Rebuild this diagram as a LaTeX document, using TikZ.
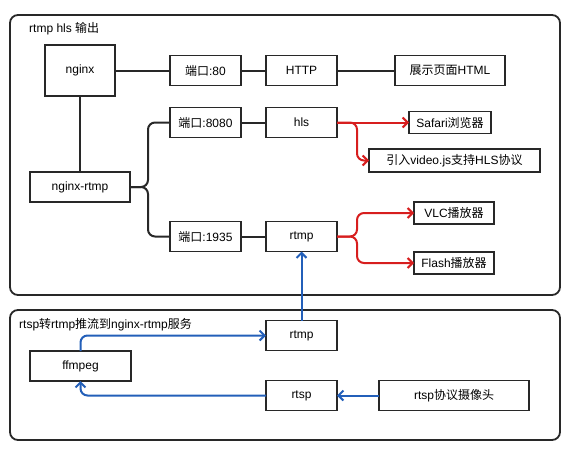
\documentclass[tikz,border=0pt]{standalone}
\usepackage{fontspec}
\setmainfont{Liberation Sans}
\newfontfamily\cjk{Noto Sans CJK SC}
\usetikzlibrary{positioning, arrows.meta}
\definecolor{lineclr}{RGB}{40,40,40}
\definecolor{redclr}{RGB}{215,30,30}
\definecolor{blueclr}{RGB}{35,95,185}

\begin{document}
\begin{tikzpicture}[x=1pt, y=-1pt, node distance=25pt,
    every node/.style={font=\fontsize{12}{14}\selectfont},
    box/.style={draw=lineclr, line width=1.8pt, fill=white, minimum width=71pt, minimum height=30pt, inner sep=0pt, outer sep=0pt},
    group/.style={draw=lineclr, line width=1.8pt, rounded corners=8pt},
    link/.style={draw=lineclr, line width=2pt},
    redarrow/.style={draw=redclr, line width=2pt, rounded corners=7pt, -{Straight Barb[length=5pt,width=10pt]}},
    bluearrow/.style={draw=blueclr, line width=2pt, rounded corners=7pt, -{Straight Barb[length=5pt,width=10pt]}}]

        \path[use as bounding box] (0,0) rectangle (580,460);

        % Groups
        \draw[group] (10,15) rectangle (560,295);
        \draw[group] (10,310) rectangle (560,440);
        \node[anchor=west, inner sep=0pt] (title1) at (29,29) {rtmp hls {\cjk 输出}};
        \node[anchor=west, inner sep=0pt] (title2) at (19,325) {rtsp{\cjk 转}rtmp{\cjk 推流到}nginx-rtmp{\cjk 服务}};

        % Server side
        \node[box, minimum width=70pt, minimum height=51pt] (nginx) at (80,70.5) {nginx};
        \node[box, right=55pt of nginx] (port80) {{\cjk 端口}:80};
        \node[box, right=of port80] (http) {HTTP};
        \node[box, minimum width=110pt, right=58pt of http] (page) {{\cjk 展示页面}HTML};
        \node[box, minimum width=100pt, below=76pt of nginx] (nr) {nginx-rtmp};
        \node[box, below=22pt of port80] (p8080) {{\cjk 端口}:8080};
        \node[box, right=of p8080] (hls) {hls};
        \node[box, below=84pt of p8080] (p1935) {{\cjk 端口}:1935};
        \node[box, right=of p1935] (rtmp1) {rtmp};

        % Players
        \node[box, minimum width=82pt, minimum height=22pt, right=72pt of hls] (safari) {Safari{\cjk 浏览器}};
        \node[box, minimum width=171pt, minimum height=23pt] (vjs) at (454.5,160.5) {{\cjk 引入}video.js{\cjk 支持}HLS{\cjk 协议}};
        \node[box, minimum width=80pt, minimum height=22pt] (vlc) at (454,213) {VLC{\cjk 播放器}};
        \node[box, minimum width=80pt, minimum height=22pt] (flash) at (454,263) {Flash{\cjk 播放器}};

        % Push side
        \node[box, below=69pt of rtmp1] (rtmp2) {rtmp};
        \node[box, below=30pt of rtmp2] (rtsp) {rtsp};
        \node[box, minimum width=150pt, right=42pt of rtsp] (cam) {rtsp{\cjk 协议摄像头}};
        \node[box, minimum width=101pt] (ffmpeg) at (80.5,366) {ffmpeg};

        % Black links
        \draw[link] (nginx) -- (port80);
        \draw[link] (port80) -- (http);
        \draw[link] (http) -- (page);
        \draw[link] (nginx) -- (nr);
        \draw[link, rounded corners=7pt] (nr.east) -- ++(18,0) |- (p8080.west);
        \draw[link, rounded corners=7pt] (nr.east) -- ++(18,0) |- (p1935.west);
        \draw[link] (p8080) -- (hls);
        \draw[link] (p1935) -- (rtmp1);

        % Red arrows
        \draw[redarrow] (hls.east) -- (safari.west);
        \draw[redarrow] (hls.east) -- ++(20,0) |- (vjs.west);
        \draw[redarrow] (rtmp1.east) -- ++(20,0) |- (vlc.west);
        \draw[redarrow] (rtmp1.east) -- ++(20,0) |- (flash.west);

        % Blue arrows
        \draw[bluearrow] (rtmp2.north) -- (rtmp1.south);
        \draw[bluearrow] (ffmpeg.north) |- (rtmp2.west);
        \draw[bluearrow] (rtsp.west) -| (ffmpeg.south);
        \draw[bluearrow] (cam.west) -- (rtsp.east);

\end{tikzpicture}
\end{document}
